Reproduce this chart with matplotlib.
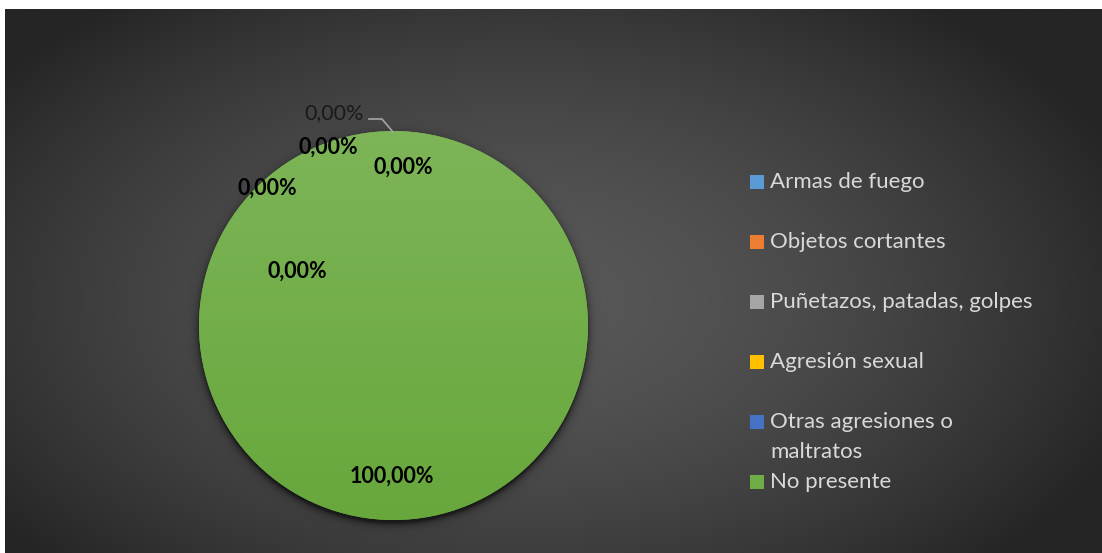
import numpy as np
import matplotlib
matplotlib.use("Agg")
import matplotlib.pyplot as plt
from matplotlib.patches import Rectangle
from matplotlib.colors import to_rgb

# ---- data ----
categories = ["Armas de fuego", "Objetos cortantes", "Puñetazos, patadas, golpes",
              "Agresión sexual", "Otras agresiones o\nmaltratos", "No presente"]
values = [0.0, 0.0, 0.0, 0.0, 0.0, 100.0]
colors = ["#5B9BD5", "#ED7D31", "#A5A5A5", "#FFC000", "#4472C4", "#70AD47"]
value_labels = ["0,00%", "0,00%", "0,00%", "0,00%", "0,00%", "100,00%"]

W, H, DPI = 1102, 553, 100
fig = plt.figure(figsize=(W / DPI, H / DPI), dpi=DPI)
fig.patch.set_facecolor("white")
FONT = "Lato"

def fx(px):
    return px / W

def fy(py):
    return 1 - py / H

# ---- background radial gradient ----
bg = fig.add_axes([fx(5), 0, 1 - fx(5), fy(9)])
bg.set_axis_off()
xs = np.linspace(5, W, 600)
ys = np.linspace(9, H, 300)
X, Y = np.meshgrid(xs, ys)
d = np.sqrt(((X - 520) / 650) ** 2 + ((Y - 300) / 380) ** 2)
d = np.clip(d, 0, 1) ** 1.6
g = (88 - d * 51) / 255.0
img = np.dstack([g, g, g])
bg.imshow(img, extent=[0, 1, 0, 1], aspect="auto", origin="upper", interpolation="bilinear")
bg.set_xlim(0, 1)
bg.set_ylim(0, 1)

# ---- pie ----
cx, cy, R = 393.5, 325.5, 194.5
L = 1.25
ax = fig.add_axes([fx(cx - L * R), fy(cy + L * R), 2 * L * R / W, 2 * L * R / H])
ax.set_xlim(-L, L)
ax.set_ylim(-L, L)
ax.set_axis_off()

# shadow
sx = np.linspace(-L, L, 500)
SX, SY = np.meshgrid(sx, sx)
r = np.sqrt(SX ** 2 + (SY + 0.018) ** 2)
alpha = np.where(r > 0.995, 0.6 * np.exp(-np.clip(r - 0.995, 0, None) / 0.018), 0.6)
sh = np.zeros((500, 500, 4))
sh[..., 3] = alpha
ax.imshow(sh, extent=[-L, L, -L, L], origin="lower", zorder=1, interpolation="bilinear")

wedges, _ = ax.pie(values, colors=colors, startangle=90, counterclock=False, radius=1,
                   wedgeprops=dict(linewidth=0))
for w in wedges:
    w.set_zorder(2)

# gradient fill on wedges
gy = np.linspace(1, -1, 256)[:, None]
for w, c, v in zip(wedges, colors, values):
    if v <= 0:
        continue
    base = np.array(to_rgb(c))
    top = base + (1 - base) * 0.09
    bot = np.clip(base * 0.93 + (base - base.mean()) * 0.12, 0, 1)
    t = (1 - gy) / 2
    grad = top[None, None, :] * (1 - t[..., None]) + bot[None, None, :] * t[..., None]
    grad = np.repeat(grad, 4, axis=1)
    im = ax.imshow(grad, extent=[-1, 1, -1, 1], origin="upper", zorder=3,
                   interpolation="bilinear")
    im.set_clip_path(w)

# data labels (pixel positions)
label_px = [(334, 113), (328, 147), (403, 167), (267, 188), (297, 271), (392, 476)]
for i, (lab, (px, py)) in enumerate(zip(value_labels, label_px)):
    xd = (px - cx) / R
    yd = (cy - py) / R
    if i == 0:
        ax.text(xd, yd, lab, ha="center", va="center", fontsize=15.5, family=FONT,
                color="#1a1a1a", zorder=6)
        pts = [(369, 119), (382, 119), (393, 132)]
        ax.plot([(p[0] - cx) / R for p in pts], [(cy - p[1]) / R for p in pts],
                color="#a6a6a6", lw=1.2, zorder=6, clip_on=False)
    else:
        ax.text(xd, yd, lab, ha="center", va="center", fontsize=15.5, family=FONT,
                fontweight="bold", color="black", zorder=6)

# ---- legend ----
for i, (cat, c) in enumerate(zip(categories, colors)):
    yc = 182 + 60 * i
    fig.patches.append(Rectangle((fx(750), fy(yc + 7)), 14 / W, 14 / H, transform=fig.transFigure,
                                 facecolor=c, edgecolor="none", zorder=5))
    for k, line in enumerate(cat.split("\n")):
        fig.text(fx(770), fy(yc + 30 * k), line, ha="left", va="center", fontsize=16,
                 family=FONT, color="#d9d9d9")

fig.savefig("out.png", dpi=DPI)
